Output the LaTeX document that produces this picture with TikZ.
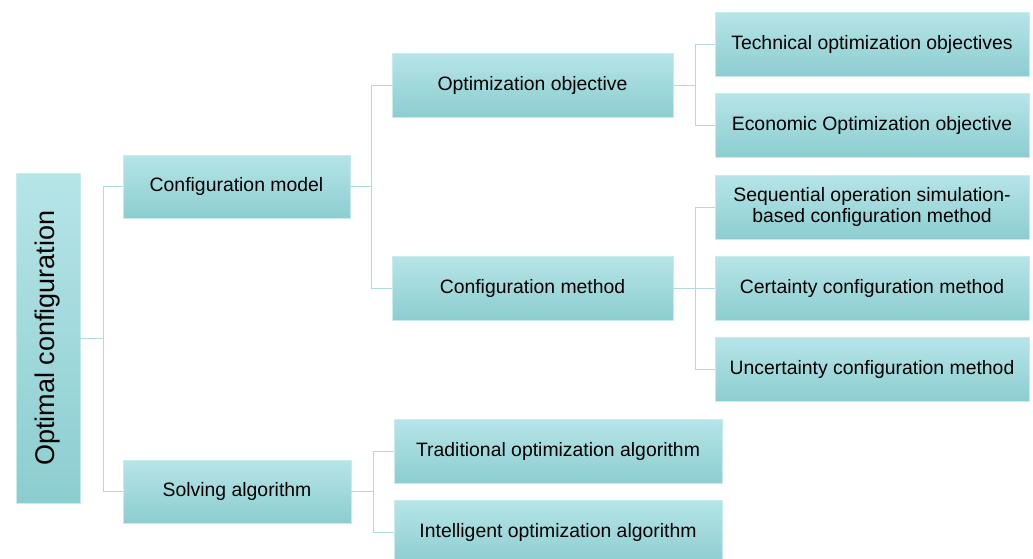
\documentclass[tikz,border=0pt]{standalone}
\usepackage{fontspec}
\setmainfont{Liberation Sans}
\definecolor{boxtop}{RGB}{182,229,232}
\definecolor{boxbot}{RGB}{140,205,208}
\definecolor{boxline}{RGB}{200,236,238}
\definecolor{linkcol}{RGB}{176,220,224}
\tikzset{
  box/.style={draw=boxline, line width=0.8pt, top color=boxtop, bottom color=boxbot,
    inner sep=0pt, align=center, font=\fontsize{19.4}{21.5}\selectfont, text=black},
  link/.style={draw=linkcol, line width=1pt},
}
\begin{document}
\begin{tikzpicture}[x=1pt,y=-1pt]
\useasboundingbox (0,0) rectangle (1033,558);
% root
\node[box, minimum width=64pt, minimum height=330pt] (root) at (48,338) {};
\node[rotate=90, font=\fontsize{27}{30}\selectfont, inner sep=0pt] (rootlabel) at (root.center) {Optimal configuration};
% level 1
\node[box, minimum width=227pt, minimum height=63pt] (cm) at (236.5,186.5) {Configuration model};
\node[box, minimum width=228pt, minimum height=63pt] (sa) at (237,491.5) {Solving algorithm};
% level 2
\node[box, minimum width=281pt, minimum height=64pt] (oo) at (532.5,85) {Optimization objective};
\node[box, minimum width=281pt, minimum height=64pt] (cmeth) at (532.5,288) {Configuration method};
\node[box, minimum width=328pt, minimum height=64pt] (ta) at (558,451) {Traditional optimization algorithm};
\node[box, minimum width=328pt, minimum height=64pt] (ia) at (558,532) {Intelligent optimization algorithm};
% level 3
\node[box, minimum width=314pt, minimum height=64pt] (tech) at (872,44) {Technical optimization objectives};
\node[box, minimum width=314pt, minimum height=64pt] (econ) at (872,125) {Economic Optimization objective};
\node[box, minimum width=314pt, minimum height=64pt] (seq) at (872,207) {Sequential operation simulation-\\based configuration method};
\node[box, minimum width=314pt, minimum height=64pt] (cert) at (872,288) {Certainty configuration method};
\node[box, minimum width=314pt, minimum height=64pt] (unc) at (872,369.5) {Uncertainty configuration method};
% junctions
\coordinate (j0) at (103,338);
\coordinate (j1) at (371,186.5);
\coordinate (j2) at (695,85);
\coordinate (j3) at (695,288);
\coordinate (j4) at (373,491.5);
% connectors
\draw[link] (root.east) -- (j0);
\draw[link] (j0) |- (cm.west);
\draw[link] (j0) |- (sa.west);
\draw[link] (cm.east) -- (j1);
\draw[link] (j1) |- (oo.west);
\draw[link] (j1) |- (cmeth.west);
\draw[link] (oo.east) -- (j2);
\draw[link] (j2) |- (tech.west);
\draw[link] (j2) |- (econ.west);
\draw[link] (cmeth.east) -- (j3);
\draw[link] (j3) |- (seq.west);
\draw[link] (j3) -- (cert.west);
\draw[link] (j3) |- (unc.west);
\draw[link] (sa.east) -- (j4);
\draw[link] (j4) |- (ta.west);
\draw[link] (j4) |- (ia.west);
\end{tikzpicture}
\end{document}
